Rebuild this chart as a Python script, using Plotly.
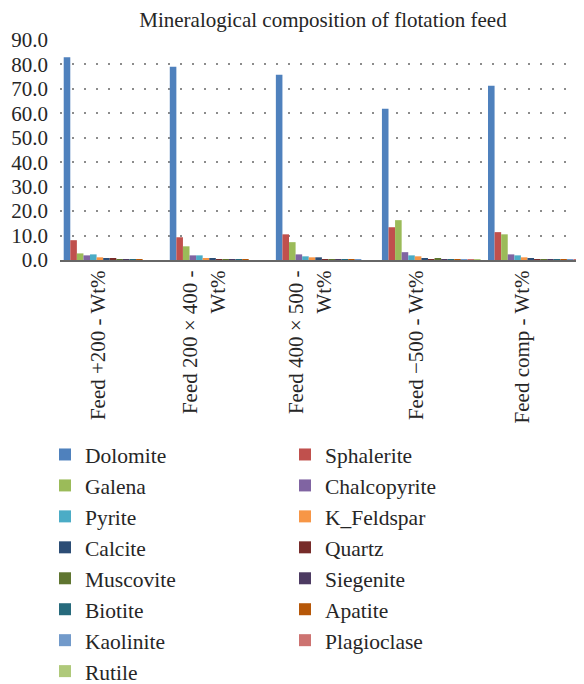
import plotly.graph_objects as go

categories = ["Feed +200 - Wt%", "Feed 200 × 400 -<br>Wt%", "Feed 400 × 500 -<br>Wt%",
              "Feed −500 - Wt%", "Feed comp - Wt%"]

dolomite = [82.9, 79.1, 75.8, 61.9, 71.3]
sphalerite = [8.1, 9.3, 10.5, 13.4, 11.4]
galena = [2.7, 5.6, 7.3, 16.3, 10.5]
chalcopyrite = [1.9, 1.9, 2.3, 3.2, 2.3]
pyrite = [2.3, 1.9, 1.5, 1.9, 1.9]
k_feldspar = [1.1, 0.7, 1.1, 1.5, 1.1]
calcite = [0.7, 0.7, 1.1, 0.7, 0.7]
quartz = [0.7, 0.3, 0.4, 0.3, 0.4]
muscovite = [0.4, 0.4, 0.4, 0.7, 0.4]
siegenite = [0.4, 0.4, 0.4, 0.3, 0.4]
biotite = [0.4, 0.4, 0.4, 0.3, 0.4]
apatite = [0.4, 0.4, 0.4, 0.3, 0.4]
kaolinite = [0.0, 0.0, 0.4, 0.3, 0.4]
plagioclase = [0.0, 0.0, 0.0, 0.3, 0.4]
rutile = [0.0, 0.0, 0.0, 0.3, 0.1]

minerals = ["Dolomite", "Sphalerite", "Galena", "Chalcopyrite", "Pyrite", "K_Feldspar",
            "Calcite", "Quartz", "Muscovite", "Siegenite", "Biotite", "Apatite",
            "Kaolinite", "Plagioclase", "Rutile"]
series = [dolomite, sphalerite, galena, chalcopyrite, pyrite, k_feldspar, calcite, quartz,
          muscovite, siegenite, biotite, apatite, kaolinite, plagioclase, rutile]
colors = ["#4F81BD", "#C0504D", "#9BBB59", "#8064A2", "#4BACC6", "#F79646", "#2C4D75",
          "#772C2A", "#5F7530", "#4D3B62", "#276A7C", "#B65708", "#729ACA", "#CD7371",
          "#AFC97A"]

FONT = "Liberation Serif"
FS = 21
W, H = 576, 676

fig = go.Figure()
for name, vals, col in zip(minerals, series, colors):
    fig.add_trace(go.Bar(name=name, x=list(range(len(categories))), y=vals,
                         marker=dict(color=col, line=dict(width=0))))

fig.update_layout(
    width=W, height=H,
    margin=dict(l=52, r=0, t=32, b=424, autoexpand=False),
    paper_bgcolor="white", plot_bgcolor="white",
    barmode="group", bargap=0.07, bargroupgap=0,
    font=dict(family=FONT, size=FS, color="#262626"),
    title=dict(text="Mineralogical composition of flotation feed", x=315/W, xanchor="center",
               xref="container", yref="container", y=1 - 12/H, yanchor="middle",
               font=dict(family=FONT, size=FS, color="#262626")),
    showlegend=True,
    legend=dict(orientation="h", xref="container", yref="container",
                x=37/W, xanchor="left", y=1 - 426/H, yanchor="top",
                entrywidth=195, font=dict(family=FONT, size=21.5, color="#262626"),
                traceorder="normal", itemwidth=30),
)
fig.update_xaxes(
    tickmode="array", tickvals=list(range(len(categories))), ticktext=categories,
    tickangle=-90, range=[-0.5, 4.44], showgrid=False, showline=True,
    linecolor="#666666", linewidth=2, ticks="", ticklabelshift=-15, ticklabelstandoff=0,
    zeroline=False, automargin=False,
)
fig.update_yaxes(
    range=[0, 90], dtick=10, tickformat=".1f", showgrid=True, gridcolor="#8c8c8c",
    griddash="2px,10px", gridwidth=1.5, zeroline=False, showline=False, ticks="",
    ticklabelstandoff=11, automargin=False,
)
fig.write_html("out.html")
